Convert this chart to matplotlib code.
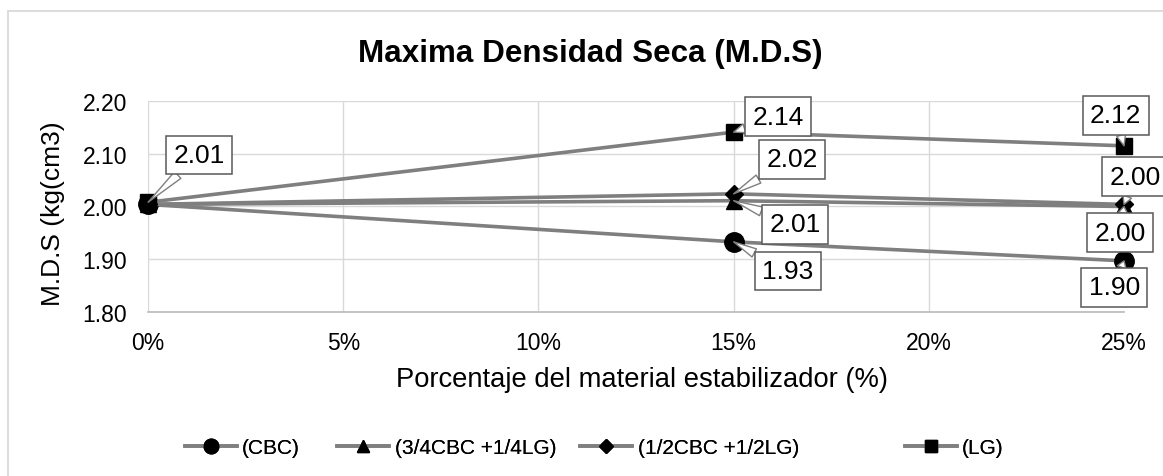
"""Maxima Densidad Seca (M.D.S) vs porcentaje de estabilizador."""

import matplotlib

matplotlib.use("Agg")
import matplotlib.pyplot as plt
from matplotlib.patches import Rectangle
from matplotlib.ticker import FuncFormatter, MultipleLocator

plt.rcParams["font.family"] = ["Liberation Sans", "DejaVu Sans"]

# ── datos ────────────────────────────────────────────────────────────────
porcentaje = [0.00, 0.15, 0.25]
cbc = [2.004, 1.933, 1.897]
cbc34 = [2.004, 2.011, 2.000]
cbc12 = [2.004, 2.024, 2.004]
lg = [2.008, 2.141, 2.115]

series_names = ["(CBC)", "(3/4CBC +1/4LG)", "(1/2CBC +1/2LG)", "(LG)"]
series_values = [cbc, cbc34, cbc12, lg]
series_markers = ["o", "^", "D", "s"]
marker_sizes = [14, 12, 9, 11]

# etiquetas: (serie, índice del punto, desplazamiento en pt)
labels = [
    (3, 0, (37, 34)),
    (3, 1, (32, 11)),
    (3, 2, (-6, 22)),
    (2, 1, (42, 25)),
    (2, 2, (8, 20)),
    (1, 1, (44, -17)),
    (1, 2, (-3, -19)),
    (0, 1, (39, -21)),
    (0, 2, (-7, -19)),
]

# inicio de cada entrada de la leyenda (fracción de la figura)
legend_x = [0.159, 0.290, 0.499, 0.778]

LINE_GRAY = "#7f7f7f"

fig = plt.figure(figsize=(11.63, 4.77), dpi=100)
ax = fig.add_axes([0.1273, 0.3438, 0.8392, 0.4424])

for vals, name, mk, ms in zip(series_values, series_names, series_markers, marker_sizes):
    ax.plot(porcentaje, vals, color=LINE_GRAY, linewidth=2.6, marker=mk,
            markersize=ms, markerfacecolor="black", markeredgecolor="black",
            label=name, zorder=3, clip_on=False)

for si, pi, off in labels:
    val = series_values[si][pi]
    ax.annotate(
        f"{val:.2f}",
        xy=(porcentaje[pi], val),
        xytext=off,
        textcoords="offset points",
        ha="center",
        va="center",
        fontsize=19,
        bbox=dict(boxstyle="square,pad=0.28", fc="white", ec="#595959", lw=1.1),
        arrowprops=dict(arrowstyle="wedge,tail_width=0.35,shrink_factor=0.5",
                        fc="white", ec="#7f7f7f", lw=1.0,
                        shrinkA=0, shrinkB=0),
        zorder=5,
    )

ax.set_xlim(0, 0.25)
ax.set_ylim(1.80, 2.20)
ax.xaxis.set_major_locator(MultipleLocator(0.05))
ax.yaxis.set_major_locator(MultipleLocator(0.10))
ax.xaxis.set_major_formatter(FuncFormatter(lambda v, _: f"{v * 100:.0f}%"))
ax.yaxis.set_major_formatter(FuncFormatter(lambda v, _: f"{v:.2f}"))
ax.tick_params(axis="both", length=0, labelsize=16.5, colors="black")
ax.tick_params(axis="x", pad=14)
ax.tick_params(axis="y", pad=15)
ax.grid(True, color="#d9d9d9", linewidth=1.0)
ax.set_axisbelow(True)
for side in ["top", "right", "left"]:
    ax.spines[side].set_visible(False)
ax.spines["bottom"].set_color("#bfbfbf")
ax.spines["bottom"].set_linewidth(1.3)

fig.text(0.508, 0.887, "Maxima Densidad Seca (M.D.S)", ha="center", va="center",
         fontsize=22.6, fontweight="bold")
fig.text(0.552, 0.203, "Porcentaje del material estabilizador (%)", ha="center",
         va="center", fontsize=19.7)
fig.text(0.046, 0.553, "M.D.S (kg(cm3)", ha="center", va="center",
         rotation=90, fontsize=19)

handles, names = ax.get_legend_handles_labels()
for h, n, x in zip(handles, names, legend_x):
    leg = fig.legend([h], [n], loc="center left", bbox_to_anchor=(x, 0.059),
                     frameon=False, fontsize=15, handlelength=2.5,
                     handletextpad=0.25, borderpad=0, borderaxespad=0,
                     markerscale=0.75)
    fig.add_artist(leg)

# marco exterior del gráfico
fig.patches.append(Rectangle((0.0069, -0.1), 1.2, 1.0748, transform=fig.transFigure,
                             fill=False, ec="#d9d9d9", lw=1.3))

fig.savefig("out.png", dpi=100)
